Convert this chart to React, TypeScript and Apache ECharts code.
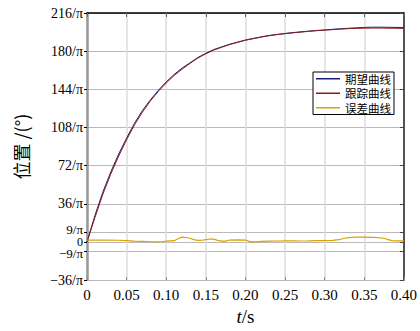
import React, { useEffect, useRef } from "react";
import * as echarts from "echarts";

const tDesired = [0, 0.01, 0.02, 0.03, 0.04, 0.05, 0.06, 0.07, 0.08, 0.09, 0.1, 0.11, 0.12, 0.13, 0.14, 0.15, 0.16, 0.17, 0.18, 0.19, 0.2, 0.21, 0.22, 0.23, 0.24, 0.25, 0.26, 0.27, 0.28, 0.29, 0.3, 0.31, 0.32, 0.33, 0.34, 0.35, 0.36, 0.37, 0.38, 0.39, 0.4];
const desired = [0, 25, 47, 66, 83, 98, 112, 124, 134, 143, 151, 158, 164, 169, 174, 178, 181.5, 184, 186.5, 188.5, 190.5, 192, 193.5, 194.8, 195.8, 196.7, 197.5, 198.2, 198.9, 199.5, 200, 200.6, 201.1, 201.6, 202, 202.4, 202.6, 202.6, 202.5, 202.4, 202.3];
const tracking = [0, 23, 45, 64, 81, 96.5, 110.5, 122.5, 133, 142, 150, 157, 163, 168.5, 173.5, 177.5, 181, 183.7, 186.2, 188.3, 190.3, 191.8, 193.3, 194.6, 195.6, 196.5, 197.3, 198, 198.7, 199.3, 199.8, 200.3, 200.8, 201.2, 201.5, 201.7, 201.8, 201.8, 201.7, 201.6, 201.5];
const errT = [0, 0.02, 0.04, 0.05, 0.06, 0.07, 0.08, 0.09, 0.095, 0.1, 0.105, 0.11, 0.115, 0.12, 0.125, 0.13, 0.135, 0.14, 0.145, 0.15, 0.155, 0.16, 0.165, 0.17, 0.175, 0.18, 0.19, 0.2, 0.205, 0.21, 0.215, 0.22, 0.23, 0.24, 0.25, 0.26, 0.27, 0.28, 0.29, 0.3, 0.31, 0.32, 0.325, 0.33, 0.34, 0.35, 0.36, 0.365, 0.37, 0.375, 0.38, 0.385, 0.39, 0.4];
const errV = [1.8, 1.8, 1.6, 1.2, 0.8, 0.5, 0.2, 0, 0.2, 0.8, 1.0, 1.2, 3.0, 4.5, 4.2, 3.5, 2.2, 1.5, 1.6, 2.2, 2.8, 2.6, 1.5, 0.8, 0.8, 1.8, 2.0, 1.8, 0.6, 0, 0, 0.5, 0.8, 0.9, 1.0, 1.0, 0.9, 1.0, 1.2, 1.3, 1.5, 2.5, 3.5, 4.0, 4.5, 4.6, 4.4, 4.2, 3.8, 3.5, 2.2, 1.2, 1.0, 1.0];
const yTicks = [-36, -9, 0, 9, 36, 72, 108, 144, 180, 216];
const seriesNames = ["期望曲线", "跟踪曲线", "误差曲线"];
const colors = ["#1c1c78", "#8b1c1c", "#d9a300"];

const serif = "Liberation Serif";
const cjk = "Noto Sans CJK SC";

export default function App() {
  const ref = useRef<HTMLDivElement>(null);
  useEffect(() => {
    const chart = echarts.init(ref.current!, undefined, { renderer: "svg" });
    const fmtY = (v: number) => {
      if (v === 0) return "{z|0}";
      if (v === 9) return "{u|9/π}";
      if (v === -9) return "{d|−9/π}";
      return `${v < 0 ? "−" + Math.abs(v) : v}/π`;
    };
    const fmtX = (v: number) => (v === 0 ? "0" : v.toFixed(2));
    chart.setOption({
      animation: false,
      textStyle: { fontFamily: serif },
      grid: { left: 87, right: 16, top: 13, bottom: 46.5 },
      legend: {
        orient: "vertical",
        left: 313,
        top: 72,
        data: seriesNames,
        icon: "rect",
        itemWidth: 24,
        itemHeight: 1.5,
        itemGap: 3,
        padding: [1, 3],
        backgroundColor: "#fff",
        borderColor: "#000",
        borderWidth: 1,
        borderRadius: 0,
        textStyle: { fontSize: 11.5, lineHeight: 11, color: "#000", fontFamily: cjk },
      },
      xAxis: [
        {
          type: "value",
          min: 0,
          max: 0.4,
          interval: 0.05,
          name: "{i|t}/s",
          nameLocation: "middle",
          nameGap: 22,
          nameTextStyle: {
            fontSize: 19,
            fontFamily: serif,
            color: "#000",
            rich: { i: { fontStyle: "italic", fontSize: 19, fontFamily: serif, color: "#000" } },
          },
          axisLine: { show: false, onZero: false },
          axisTick: { show: true, inside: true, length: 3, lineStyle: { color: "#888" } },
          axisLabel: { formatter: fmtX, fontSize: 15, fontFamily: serif, color: "#000", margin: 7 },
          splitLine: { show: true, lineStyle: { color: "#dcdcdc", width: 1.5 } },
        },
        {
          type: "value",
          position: "top",
          min: 0,
          max: 0.4,
          interval: 0.05,
          axisLine: { show: true, onZero: false, lineStyle: { color: "#000", width: 1.5 } },
          axisTick: { show: true, inside: true, length: 4, lineStyle: { color: "#666" } },
          axisLabel: { show: false },
          splitLine: { show: false },
        },
      ],
      yAxis: [
        {
          type: "value",
          min: -36,
          max: 216,
          interval: 9,
          name: "位置 /(°)",
          nameLocation: "middle",
          nameRotate: 90,
          nameGap: 57,
          nameTextStyle: { fontSize: 18, color: "#000", fontFamily: cjk },
          axisLine: { show: true, onZero: false, lineStyle: { color: "#999", width: 2.5 } },
          axisTick: { show: true, length: 3, customValues: yTicks, lineStyle: { color: "#000" } },
          axisLabel: {
            customValues: yTicks,
            formatter: fmtY,
            fontSize: 14,
            lineHeight: 9,
            fontFamily: serif,
            color: "#000",
            margin: 4,
            rich: {
              z: { fontSize: 12, lineHeight: 9, fontFamily: serif, color: "#000" },
              u: { fontSize: 13, lineHeight: 9, fontFamily: serif, color: "#000", padding: [0, 0, 5, 0] },
              d: { fontSize: 13, lineHeight: 9, fontFamily: serif, color: "#000", padding: [5, 0, 0, 0] },
            },
          },
          splitLine: { show: true, lineStyle: { color: "#bdb8b8", width: 1 } },
        },
        {
          type: "value",
          position: "right",
          min: -36,
          max: 216,
          interval: 9,
          axisLine: { show: true, onZero: false, lineStyle: { color: "#222", width: 1.5 } },
          axisTick: { show: true, inside: true, length: 4, customValues: yTicks, lineStyle: { color: "#444" } },
          axisLabel: { show: false },
          splitLine: { show: false },
        },
      ],
      series: [
        {
          name: seriesNames[0],
          type: "line",
          data: tDesired.map((t, i) => [t, desired[i]]),
          showSymbol: false,
          lineStyle: { color: colors[0], width: 1 },
          itemStyle: { color: colors[0] },
        },
        {
          name: seriesNames[1],
          type: "line",
          data: tDesired.map((t, i) => [t, tracking[i]]),
          showSymbol: false,
          lineStyle: { color: colors[1], width: 1 },
          itemStyle: { color: colors[1] },
        },
        {
          name: seriesNames[2],
          type: "line",
          data: errT.map((t, i) => [t, errV[i]]),
          showSymbol: false,
          lineStyle: { color: colors[2], width: 1.2 },
          itemStyle: { color: colors[2] },
        },
      ],
    });
    return () => chart.dispose();
  }, []);
  return <div ref={ref} style={{ width: 420, height: 331, position: "absolute", left: 0, top: 0, background: "#fff" }} />;
}
